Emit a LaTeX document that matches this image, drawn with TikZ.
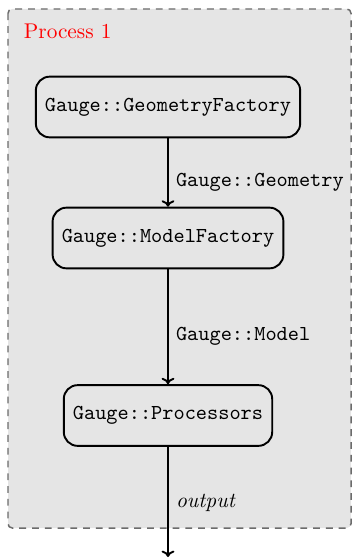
\documentclass[tikz,border=0pt]{standalone}
\usetikzlibrary{arrows.meta}
\begin{document}
\begin{tikzpicture}[x=0.4695pt,y=-0.4695pt,
  procbox/.style={draw=black!58, dash pattern=on 3.2pt off 2.8pt,
    line width=0.7pt, fill=black!10, rounded corners=2pt},
  stage/.style={draw, line width=0.9pt, rounded corners=6.5pt,
    font=\ttfamily, inner xsep=4.3pt, minimum height=28.5pt},
  flow/.style={line width=0.9pt, -{To[length=3pt,width=6pt]}},
  flowlabel/.style={right, font=\ttfamily}]
  \useasboundingbox (0,0) rectangle (354,558);
  % process frame
  \path[procbox] (8,9) rectangle (351,528);
  \node[anchor=base west, inner sep=0pt, text=red] (title) at (23.5,38.5) {Process 1};
  % stages
  \node[stage] (geo) at (168,107) {Gauge::GeometryFactory};
  \node[stage] (model) at (168,238) {Gauge::ModelFactory};
  \node[stage] (proc) at (168,415.5) {Gauge::Processors};
  \coordinate (out) at (168,557);
  % data flow
  \draw[flow] (geo) -- node[flowlabel, pos=0.65] {Gauge::Geometry} (model);
  \draw[flow] (model) -- node[flowlabel, pos=0.58] {Gauge::Model} (proc);
  \draw[flow] (proc) -- node[right, pos=0.51] {\itshape output} (out);
\end{tikzpicture}
\end{document}
